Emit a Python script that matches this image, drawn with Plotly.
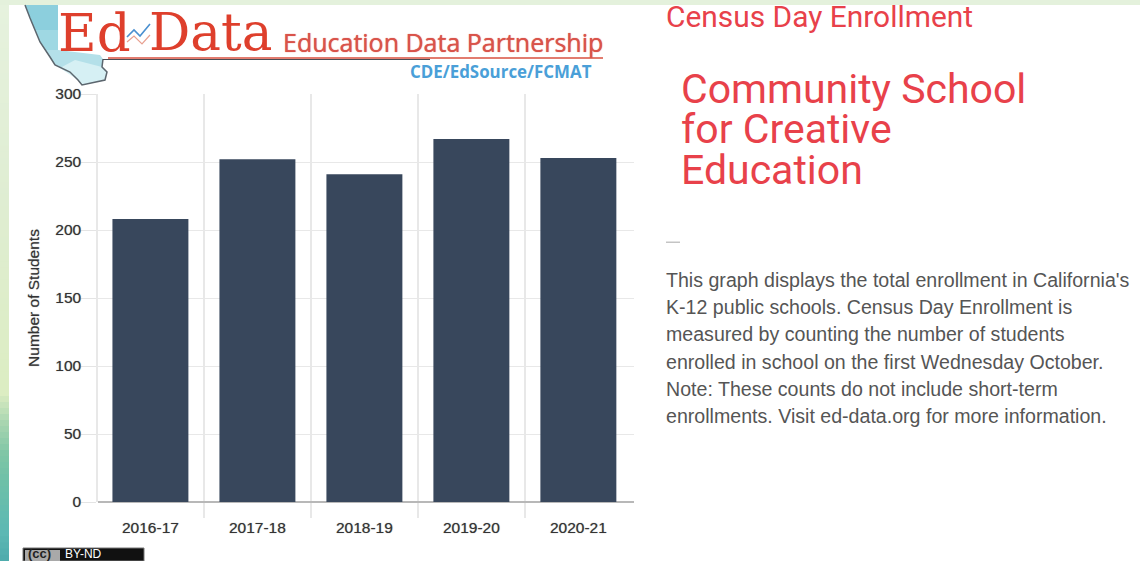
import plotly.graph_objects as go

# ---- data ----
categories = ["2016-17", "2017-18", "2018-19", "2019-20", "2020-21"]
enrollment = [208, 252, 241, 267, 253]
y_ticks = [0, 50, 100, 150, 200, 250, 300]
y_title = "Number of Students"
header = "Census Day Enrollment"
school_lines = ["Community School", "for Creative", "Education"]
body_lines = [
    "This graph displays the total enrollment in California's",
    "K-12 public schools. Census Day Enrollment is",
    "measured by counting the number of students",
    "enrolled in school on the first Wednesday October.",
    "Note: These counts do not include short-term",
    "enrollments. Visit ed-data.org for more information.",
]

W, H = 1140, 561
ML, MR, MT, MB = 98, W - 634, 94, H - 502
PW, PH = W - ML - MR, H - MT - MB


def px(x):
    return (x - ML) / PW


def py(y):
    return 1 - (y - MT) / PH


def poly(points, fill=None, line=None, width=1, close=True):
    d = "M " + " L ".join(f"{px(x):.5f},{py(y):.5f}" for x, y in points) + (" Z" if close else "")
    return dict(type="path", xref="paper", yref="paper", path=d, layer="above",
                fillcolor=fill or "rgba(0,0,0,0)",
                line=dict(color=line or "rgba(0,0,0,0)", width=width if line else 0))


def rect(x0, y0, x1, y1, fill, line=None, width=0):
    return dict(type="rect", xref="paper", yref="paper", x0=px(x0), x1=px(x1), y0=py(y0), y1=py(y1),
                layer="below", fillcolor=fill, line=dict(color=line or fill, width=width))


def text(x, y, s, size, color, family="Liberation Sans", anchor="left", bold=False, shadow=None):
    a = dict(xref="paper", yref="paper", x=px(x), y=py(y), text=f"<b>{s}</b>" if bold else s,
             showarrow=False, xanchor=anchor, align="left", yanchor="middle", borderpad=0, borderwidth=0,
             font=dict(family=family, size=size, color=color))
    if shadow:
        a["font"]["shadow"] = shadow
    return a


def hex_mix(a, b, t):
    ca = [int(a[i:i + 2], 16) for i in (1, 3, 5)]
    cb = [int(b[i:i + 2], 16) for i in (1, 3, 5)]
    return "#" + "".join(f"{round(u + (v - u) * t):02x}" for u, v in zip(ca, cb))


shapes = []
# page background: pale band on top, gradient strip on the left
stops = [(0, "#e6f2de"), (200, "#dfedd2"), (390, "#dcedc2"), (420, "#a8d5b0"), (450, "#80c6a6"),
         (480, "#6dc0a8"), (530, "#5cb8b4"), (561, "#4ca9ab")]
for (y0, c0), (y1, c1) in zip(stops, stops[1:]):
    n = max(1, (y1 - y0) // 6)
    for k in range(n):
        shapes.append(rect(0, y0 + (y1 - y0) * k / n, 9, min(H, y0 + (y1 - y0) * (k + 1) / n + 2), hex_mix(c0, c1, k / n)))
shapes.append(rect(0, 0, W, 5, "#e4f1dc"))

# California outline of the logo
coast = [(25, 5), (30, 18), (35, 30), (40, 42), (50, 57), (55, 65), (70, 72), (78, 80), (82, 85)]
inland = [(105, 80), (107, 72), (102, 67), (103, 59)]
shapes.append(poly(coast + inland + [(100, 55), (58, 50), (58, 5)], fill="#b4e0e9"))
shapes.append(poly([(25, 5), (30, 18), (35, 30), (58, 30), (58, 5)], fill="#8ccfdd"))
shapes.append(poly([(35, 30), (40, 42), (45, 50), (58, 50), (58, 30)], fill="#9fd8e3"))
shapes.append(poly([(60, 68), (78, 80), (82, 85), (105, 80), (107, 72), (102, 67), (75, 60)], fill="#d6f0f4"))
shapes.append(poly(coast + inland, line="#5c666e", width=1.5, close=False))
shapes.append(poly([(103, 59.5), (430, 59.5)], line="#4a4d54", width=1.2, close=False))
shapes.append(poly([(108, 58), (603, 58)], line="#d9503f", width=1.3, close=False))
# squiggle between Ed and Data
shapes.append(poly([(127, 37), (134, 30), (140, 36), (150, 24)], line="#4a90d0", width=1.6, close=False))
shapes.append(poly([(127, 42), (134, 36), (142, 44), (150, 35)], line="#e8a090", width=1.2, close=False))

# small dash above the description
shapes.append(rect(666, 241.5, 680, 243, "#c4c4c4"))

# CC badge
shapes.append(rect(23, 548, 144, 561, "#111111", line="#777777", width=1))
shapes.append(rect(25, 550, 60, 561, "#a9a9a9"))

soft = "0 0 1px #888888"
school_text = "<br>".join(f'<span style="font-size:41px">{s}</span>' for s in school_lines)
annotations = [
    text(58, 32, "Ed", 53, "#de3f2c", family="DejaVu Serif"),
    text(149, 32, "Data", 51.5, "#de3f2c", family="DejaVu Serif"),
    text(283, 42, "Education Data Partnership", 25, "#d9534a", family="Open Sans", shadow="0 0 1px #d9534a"),
    text(410, 71, "CDE/EdSource/FCMAT", 16.9, "#4a9fd8", family="Open Sans", bold=True),
    text(666, 16, header, 29.9, "#e8414a", family="Roboto"),
    text(28, 553, "(cc)", 13, "#222222", bold=True),
    text(65, 554, "BY-ND", 12, "#ffffff"),
    text(681, 129.5, school_text, 31.15, "#e8414a", family="Roboto"),
]
for i, s in enumerate(body_lines):
    annotations.append(text(666, 280 + i * 27.2, s, 19.6, "#555555"))

positions = list(range(len(categories)))
fig = go.Figure(go.Bar(x=positions, y=enrollment, width=0.71, marker=dict(color="#38475c", line=dict(width=0))))

tick_font = dict(size=15.5, color="#333333", shadow=soft)
fig.update_layout(
    width=W, height=H, autosize=False,
    margin=dict(l=ML, r=MR, t=MT, b=MB, pad=0),
    paper_bgcolor="#ffffff", plot_bgcolor="#ffffff",
    showlegend=False, shapes=shapes, annotations=annotations,
    font=dict(family="Liberation Sans", color="#333333"),
    xaxis=dict(
        range=[-0.49, 4.52], tickmode="array", tickvals=positions, ticktext=categories,
        showgrid=False, zeroline=False, showline=False,
        ticks="outside", ticklen=11, tickcolor="rgba(0,0,0,0)",
        tickfont=tick_font,
        minor=dict(tickmode="array", tickvals=[p + 0.5 for p in positions[:-1]], showgrid=True,
                   gridcolor="#e8e8e8", gridwidth=1.5, ticks="outside", ticklen=15,
                   tickcolor="#e8e8e8", tickwidth=1.5),
    ),
    yaxis=dict(
        range=[0, 300], tickmode="array", tickvals=y_ticks,
        showgrid=True, gridcolor="#e8e8e8", gridwidth=1,
        zeroline=True, zerolinecolor="#b8b8b8", zerolinewidth=2,
        showline=True, linecolor="#e8e8e8", linewidth=1.5,
        ticks="outside", ticklen=15, tickcolor="#e4e4e4", ticklabelstandoff=-3,
        tickfont=tick_font,
        title=dict(text=y_title, font=dict(size=15.5, color="#333333", shadow=soft), standoff=12),
    ),
)

fig.write_html("out.html", config=dict(displayModeBar=False),
               post_script="document.body.style.margin='0';document.body.style.overflow='hidden';")
